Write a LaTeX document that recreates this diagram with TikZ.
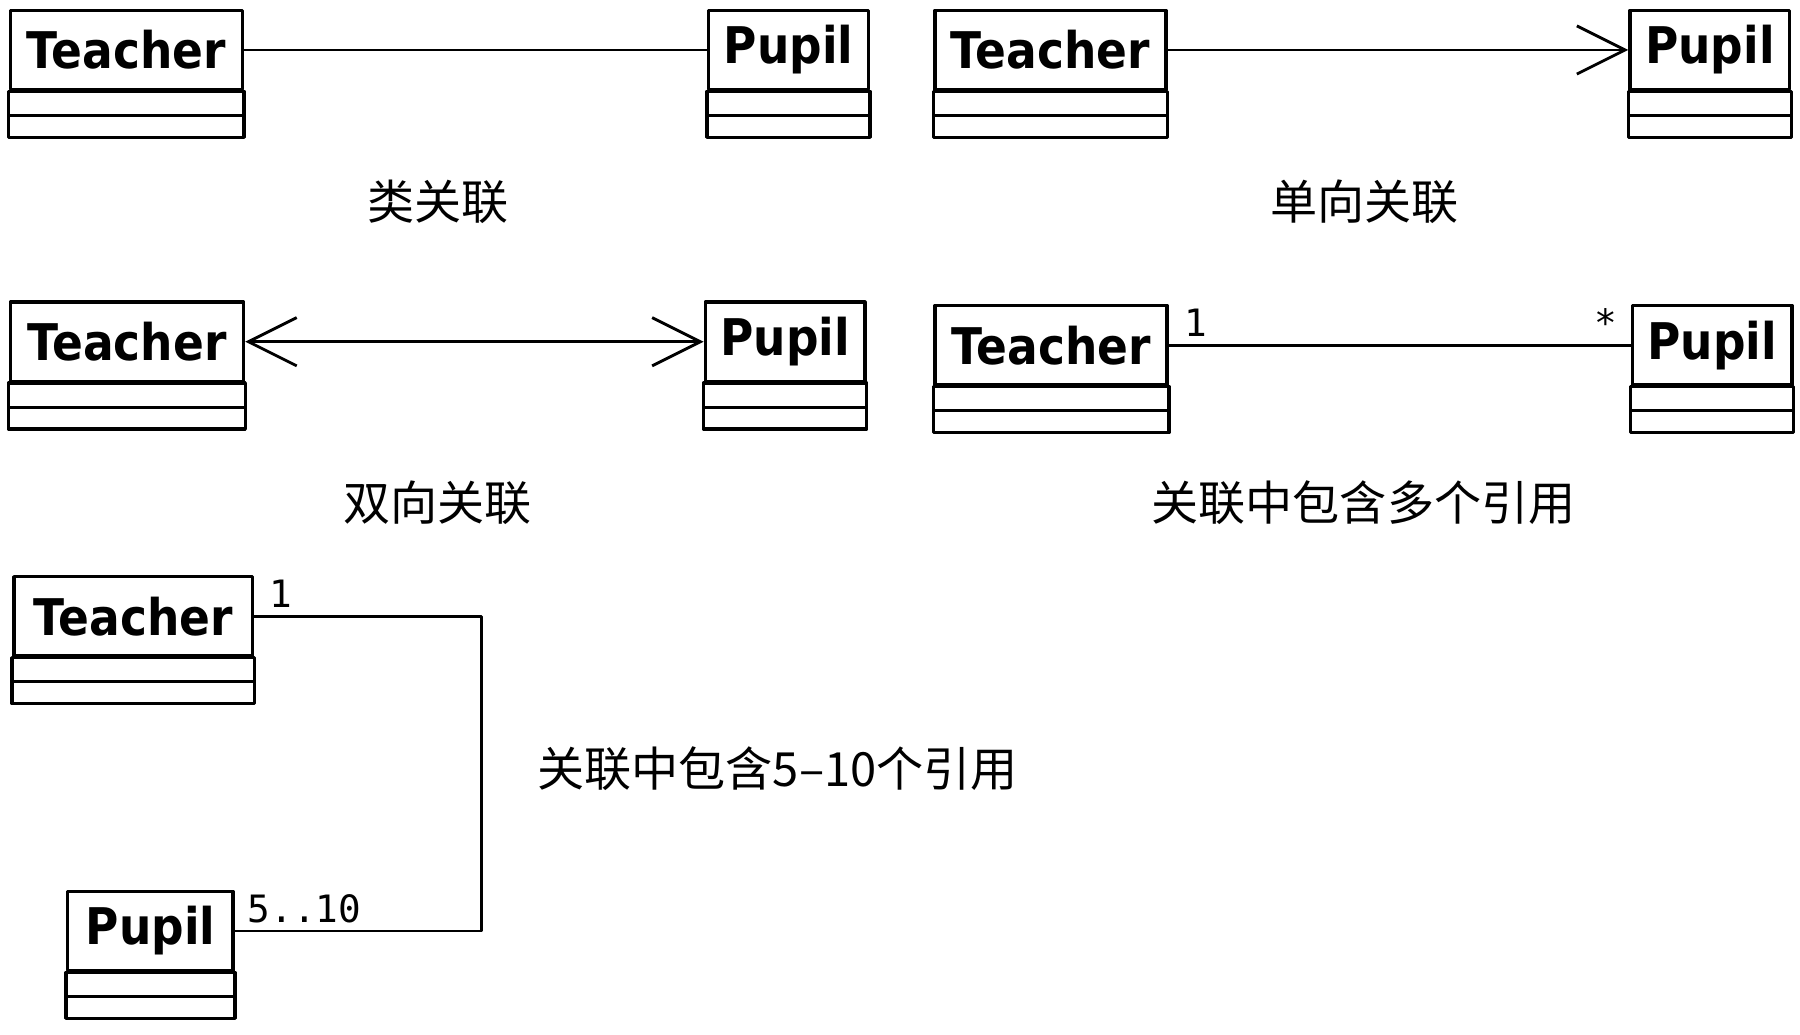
\documentclass[tikz,border=0pt]{standalone}
\usepackage{fontspec}
\usetikzlibrary{arrows.meta,calc}
\newfontfamily\clsfont{DejaVu Sans}[FakeStretch=0.9]
\newfontfamily\multfont{DejaVu Sans Mono}
\newfontfamily\cjkfont{Noto Sans CJK SC}
\tikzset{
  classhead/.style={draw, line width=1.5pt, anchor=north west, inner sep=0pt,
    minimum height=34.5pt, font=\clsfont\bfseries\fontsize{22}{26}\selectfont},
  compart/.style={draw, line width=1.5pt},
  assoc/.style={line width=1.25pt},
  mult/.style={inner sep=3pt, font=\multfont\fontsize{16.4}{19}\selectfont},
  caption/.style={inner sep=0pt, font=\cjkfont\fontsize{20.5}{24}\selectfont},
}
% class box: name, top left corner, outer width, class name
\newcommand\umlclass[4]{%
  \node[classhead, minimum width=#3*0.5pt-1.5pt] (#1) at ($(#2)+(1.5,1.5)$) {#4};
  \draw[compart] (#1.south west) rectangle ($(#1.south east)+(0,21)$);
  \draw[compart] ($(#1.south west)+(0,21)$) rectangle ($(#1.south east)+(0,40)$);
}
\begin{document}
\begin{tikzpicture}[x=0.5pt, y=-0.5pt, line join=round, >={Straight Barb[length=21pt,width=21pt]}]
            \useasboundingbox (-1,-1) rectangle (1566,900);
            \umlclass{t1}{5,5}{205}{Teacher}
            \umlclass{p1}{613,5}{142}{Pupil}
            \draw[assoc] (t1) -- (p1);
            \node[caption] (c1) at (380,175) {类关联};
            \umlclass{t2}{810,5}{204}{Teacher}
            \umlclass{p2}{1415,5}{142}{Pupil}
            \draw[assoc,->] (t2) -- (p2);
            \node[caption] (c2) at (1187,175) {单向关联};
            \umlclass{t3}{5,259}{206}{Teacher}
            \umlclass{p3}{610,259}{142}{Pupil}
            \draw[assoc,<->] (t3) -- (p3);
            \node[caption] (c3) at (380,437) {双向关联};
            \umlclass{t4}{810,262}{205}{Teacher}
            \umlclass{p4}{1417,262}{142}{Pupil}
            \draw[assoc] (t4) -- node[mult,pos=0,above right,xshift=3pt] (m4a) {1}
              node[mult,pos=1,above left,xshift=-2pt] (m4b) {*} (p4);
            \node[caption] (c4) at (1186,437) {关联中包含多个引用};
            %\draw[assoc] (t5) -- (p5);
            \umlclass{t5}{8,498}{211}{Teacher}
            \umlclass{p5}{55,772}{147}{Pupil}
            \coordinate (c5) at (418,535);
            \draw[assoc] (t5.east) node[mult,above right,xshift=3pt] (m5a) {1}
              -| (c5 |- p5.east) -- (p5.east) node[mult,above right,xshift=2pt] (m5b) {5..10};
            \node[caption] (c6) at (676,668) {关联中包含5–10个引用};
        \end{tikzpicture}
\end{document}
